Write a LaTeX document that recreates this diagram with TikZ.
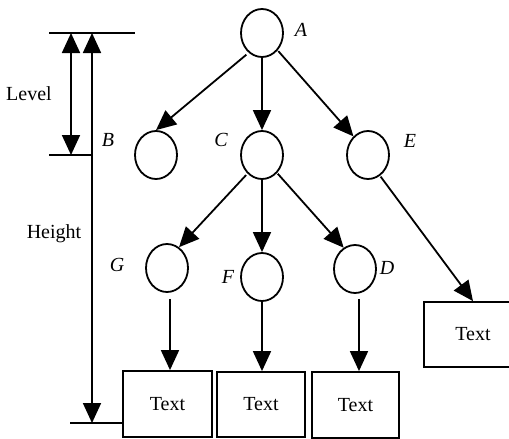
\documentclass[tikz,border=0pt]{standalone}
\usepackage{fontspec}
\setmainfont{Liberation Serif}
\usetikzlibrary{arrows.meta,shapes.geometric}
\begin{document}
\begin{tikzpicture}[x=1pt,y=-1pt,
  every node/.style={font=\fontsize{20}{22}\selectfont},
  vtx/.style={draw,ellipse,line width=1.8pt,minimum width=42pt,minimum height=48pt,inner sep=0pt},
  leaf/.style={draw,rectangle,line width=1.8pt,inner sep=0pt},
  lbl/.style={font=\fontsize{20}{22}\selectfont\itshape},
  edge/.style={line width=1.8pt,-{Triangle[length=20pt,width=18pt]}},
  dim/.style={line width=1.8pt},
  dimarrow/.style={line width=1.8pt,{Triangle[length=20pt,width=18pt]}-{Triangle[length=20pt,width=18pt]}}]
\useasboundingbox (0,0) rectangle (509,439);
\clip (0,0) rectangle (509,439);
% tree nodes
\node[vtx] (A) at (262,33) {};
\node[vtx] (B) at (156,155) {};
\node[vtx] (C) at (262,155) {};
\node[vtx] (E) at (368,155) {};
\node[vtx] (G) at (167,268) {};
\node[vtx] (F) at (262,277) {};
\node[vtx] (D) at (355,269) {};
% leaf boxes
\node[leaf,minimum width=89pt,minimum height=66pt] (T1) at (167.5,404) {Text};
\node[leaf,minimum width=88pt,minimum height=65pt] (T2) at (261,404.5) {Text};
\node[leaf,minimum width=87pt,minimum height=66pt] (T3) at (355.5,405) {Text};
\node[leaf,minimum width=98pt,minimum height=65pt] (T4) at (473,334.5) {Text};
% labels
\node[lbl] (lA) at (301,30) {A};
\node[lbl] (lB) at (108,140) {B};
\node[lbl] (lC) at (221,140) {C};
\node[lbl] (lE) at (410,141) {E};
\node[lbl] (lG) at (117,265) {G};
\node[lbl] (lF) at (228,277) {F};
\node[lbl] (lD) at (387,268) {D};
% edges
\draw[edge,shorten <=3pt] (A.236) -- (B.north);
\draw[edge] (A.south) -- (C.north);
\draw[edge,shorten <=1pt] (A.312) -- (E.128);
\draw[edge,shorten <=2pt] (C.232) -- (G.60);
\draw[edge] (C.south) -- (F.north);
\draw[edge,shorten <=1pt] (C.310) -- (D.118);
\draw[edge,shorten <=1pt] (E.300) -- (T4.north);
\draw[edge,shorten <=6pt] ([xshift=3pt]G.south) -- ([xshift=3pt]G.south |- T1.north);
\draw[edge] (F.south) -- (F.south |- T2.north);
\draw[edge,shorten <=5pt] ([xshift=4pt]D.south) -- ([xshift=4pt]D.south |- T3.north);
% dimension lines
\coordinate (topL) at (49,33);
\coordinate (topR) at (135,33);
\coordinate (lvL) at (49,155);
\coordinate (lvR) at (92,155);
\coordinate (botL) at (70,423);
\coordinate (botR) at (T1.west |- 0,423);
\coordinate (lvTop) at (71,33);
\coordinate (lvBot) at (71,155);
\coordinate (hTop) at (92,33);
\coordinate (hBot) at (92,423);
\draw[dim] (topL) -- (topR);
\draw[dim] (lvL) -- (lvR);
\draw[dim] (botL) -- (botR);
\draw[dimarrow] (lvTop) -- (lvBot);
\draw[dimarrow] (hTop) -- (hBot);
\node (lvl) at (29,94) {Level};
\node (hgt) at (54,234) {Height};
\end{tikzpicture}
\end{document}
